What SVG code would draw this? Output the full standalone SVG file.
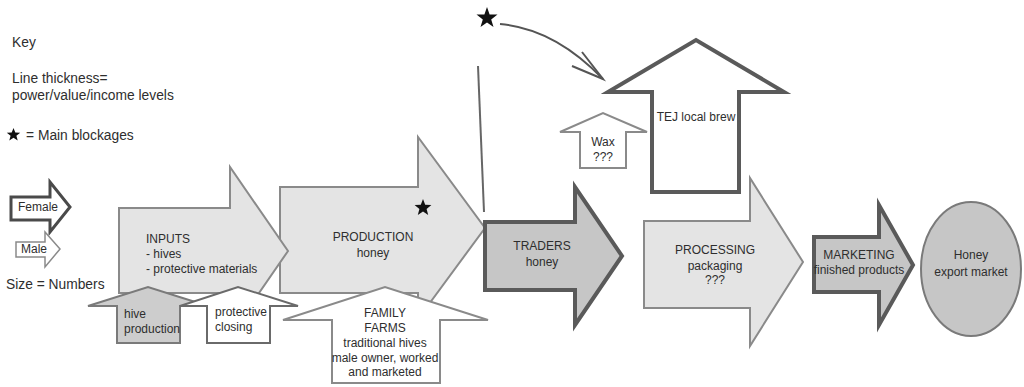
<svg xmlns="http://www.w3.org/2000/svg" width="1024" height="387" viewBox="0 0 1024 387">
<style>
text{font-family:"Liberation Sans",Arial,sans-serif;fill:#2e2e2e;font-size:12px}
.c{text-anchor:middle}
.k{font-size:13.8px}
.light{fill:#e4e4e4;stroke:#8a8a8a;stroke-width:2;stroke-linejoin:miter}
.dark{fill:#c6c6c6;stroke:#5a5a5a;stroke-width:4;stroke-linejoin:miter}
.wthin{fill:#ffffff;stroke:#8a8a8a;stroke-width:2}
.wmid{fill:#ffffff;stroke:#6a6a6a;stroke-width:2}
.wthick{fill:#ffffff;stroke:#5a5a5a;stroke-width:4}
.gup{fill:#cdcdcd;stroke:#7a7a7a;stroke-width:2}
.star{fill:#111}
</style>
<rect width="1024" height="387" fill="#ffffff"/>
<g id="key">
<text class="k" x="12" y="47">Key</text>
<text class="k" x="12" y="83">Line thickness=</text>
<text class="k" x="12" y="100">power/value/income levels</text>
<polygon class="star" points="13.5,128 15.3,132.6 20.2,132.8 16.4,135.8 17.7,140.5 13.5,137.8 9.3,140.5 10.6,135.8 6.8,132.8 11.7,132.6"/>
<text class="k" x="26" y="140">= Main blockages</text>
<g id="key-female">
<polygon points="11,197 50,197 50,182 70,207 50,232 50,220 11,220" fill="#fff" stroke="#4a4a4a" stroke-width="3"/>
<text x="18" y="211" font-size="13.2">Female</text>
</g>
<g id="key-male">
<polygon points="16,242 45,242 45,232 60,249 45,267 45,257 16,257" fill="#fff" stroke="#8a8a8a" stroke-width="1.5"/>
<text x="21" y="253" font-size="12.5">Male</text>
</g>
<text class="k" x="6" y="289">Size = Numbers</text>
</g>
<g id="connectors" fill="none" stroke="#555" stroke-width="2">
<line x1="478" y1="66" x2="484" y2="212" stroke="#666"/>
<polygon class="star" stroke="none" points="487,7 489.6,14.4 497.5,14.6 491.2,19.4 493.5,27 487,22.5 480.5,27 482.8,19.4 476.5,14.6 484.4,14.4"/>
<path d="M500,24 Q554.5,28.5 603,79"/>
<path d="M582,52 L603,79 L572,66"/>
</g>
<g id="production">
<polygon class="light" points="280,187 418,187 418,137 485,228 418,319 418,293 280,293"/>
<polygon class="star" points="423,199 425.2,204.8 431.4,205.1 426.6,209 428.2,215 423,211.6 417.8,215 419.4,209 414.6,205.1 420.8,204.8"/>
<text class="c" x="373" y="241" font-size="11.2">PRODUCTION</text>
<text class="c" x="373" y="257">honey</text>
</g>
<g id="inputs">
<polygon class="light" points="119,208 230,208 230,167 288,251 230,335 230,293 119,293"/>
<text x="146" y="243" font-size="12.5">INPUTS</text>
<text x="146" y="258">- hives</text>
<text x="146" y="273">- protective materials</text>
</g>
<g id="hive-production">
<polygon class="gup" points="117,343 117,306 88,306 148,287 208,306 180,306 180,343"/>
<text x="124" y="318" font-size="11.5">hive</text>
<text x="124" y="333" font-size="11.5">production</text>
</g>
<g id="protective-closing">
<polygon class="wmid" points="207,343 207,306 180,306 238,287 298,306 270,306 270,343"/>
<text x="215" y="316" font-size="11.5">protective</text>
<text x="215" y="331" font-size="11.5">closing</text>
</g>
<g id="family-farms">
<polygon class="wthin" points="332,383 332,320 283,320 385,287 488,320 440,320 440,383"/>
<text class="c" x="385" y="317" font-size="11">FAMILY</text>
<text class="c" x="385" y="332" font-size="11">FARMS</text>
<text class="c" x="385" y="347" font-size="11">traditional hives</text>
<text class="c" x="385" y="362" font-size="11">male owner, worked</text>
<text class="c" x="385" y="376" font-size="11">and marketed</text>
</g>
<g id="traders">
<polygon class="dark" points="485,222 575,222 575,187 622,256 575,325 575,290 485,290"/>
<text class="c" x="542" y="250" font-size="11">TRADERS</text>
<text class="c" x="542" y="266">honey</text>
</g>
<g id="wax">
<polygon class="wthin" points="580,168 580,132 560,132 603,113 647,132 626,132 626,168"/>
<text class="c" x="603" y="146" font-size="11.5">Wax</text>
<text class="c" x="603" y="161" font-size="11">???</text>
</g>
<g id="tej">
<polygon class="wthick" points="652,192 652,92 608,92 696,40 784,92 739,92 739,192"/>
<text class="c" x="696" y="121">TEJ local brew</text>
</g>
<g id="processing">
<polygon class="light" points="644,221 750,221 750,178 803,262 750,346 750,308 644,308"/>
<text class="c" x="715" y="254" font-size="11.2">PROCESSING</text>
<text class="c" x="715" y="270">packaging</text>
<text class="c" x="715" y="284" font-size="11">???</text>
</g>
<g id="marketing">
<polygon class="dark" points="814,237 879,237 879,205 913,265 879,325 879,292 814,292" stroke-width="3.5"/>
<text class="c" x="859" y="259" font-size="10.5">MARKETING</text>
<text class="c" x="859" y="274" font-size="10.5">finished products</text>
</g>
<g id="export-market">
<ellipse cx="971" cy="269" rx="50" ry="67" fill="#c6c6c6" stroke="#7a7a7a" stroke-width="2"/>
<text class="c" x="971" y="259" font-size="12.5">Honey</text>
<text class="c" x="971" y="276" font-size="12.5">export market</text>
</g>
</svg>
